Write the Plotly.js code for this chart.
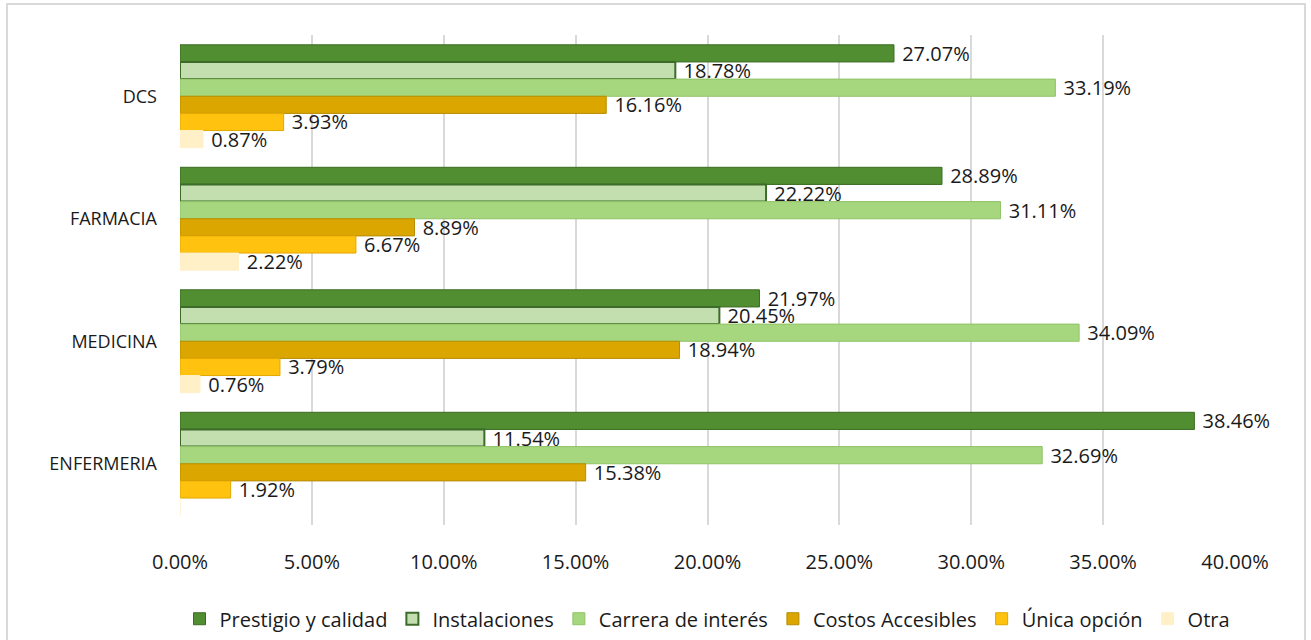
<!DOCTYPE html>
<html lang="es">
<head>
<meta charset="utf-8">
<title>Motivos de elección de la carrera</title>
<script src="https://cdn.plot.ly/plotly-3.0.1.min.js"></script>
<style>
    html, body { margin: 0; padding: 0; background: #ffffff; }
    #chart {
        position: absolute; left: 6px; top: 3px;
        width: 1300px; height: 640px;
        border: 2px solid #d9d9d9; box-sizing: border-box;
    }
</style>
</head>
<body>
<div id="chart"></div>
<script>
// Categorías (de arriba hacia abajo)
const carreras = ['DCS', 'FARMACIA', 'MEDICINA', 'ENFERMERIA'];

// Series en porcentaje
const prestigio      = [27.07, 28.89, 21.97, 38.46];
const instalaciones  = [18.78, 22.22, 20.45, 11.54];
const carreraInteres = [33.19, 31.11, 34.09, 32.69];
const costos         = [16.16, 8.89, 18.94, 15.38];
const unicaOpcion    = [3.93, 6.67, 3.79, 1.92];
const otra           = [0.87, 2.22, 0.76, 0];

const seriesNames = ['Prestigio y calidad', 'Instalaciones', 'Carrera de interés',
                     'Costos Accesibles', 'Única opción', 'Otra'];

const xTicks = [0, 5, 10, 15, 20, 25, 30, 35, 40];

const FONT = 'Open Sans, Noto Sans, sans-serif';

function makeTrace(name, values, fill, lineColor, lineWidth) {
    return {
        type: 'bar',
        orientation: 'h',
        name: name,
        x: values,
        y: carreras,
        marker: { color: fill, line: { color: lineColor, width: lineWidth } },
        // el cero de "Otra" en ENFERMERIA no lleva etiqueta
        text: values.map(v => v > 0 ? '\u00a0' + v.toFixed(2) + '%' : ''),
        textposition: 'outside',
        constraintext: 'none',
        cliponaxis: false,
        textfont: { family: FONT, size: 20, color: '#1a1a1a' },
        hoverinfo: 'name+x'
    };
}

const data = [
    makeTrace(seriesNames[0], prestigio, '#508e31', '#3b6b22', 1),
    makeTrace(seriesNames[1], instalaciones, '#c3dfb0', '#3d6b2a', 2),
    makeTrace(seriesNames[2], carreraInteres, '#a6d67e', '#8fc466', 1),
    makeTrace(seriesNames[3], costos, '#dba600', '#b88c00', 1),
    makeTrace(seriesNames[4], unicaOpcion, '#ffc20e', '#e0a800', 1),
    makeTrace(seriesNames[5], otra, '#fff0c8', '#fff0c8', 1)
];

const layout = {
    width: 1296,
    height: 636,
    margin: { l: 172, r: 69, t: 30, b: 116 },
    paper_bgcolor: 'rgba(0,0,0,0)',
    plot_bgcolor: 'rgba(0,0,0,0)',
    font: { family: FONT, color: '#1a1a1a' },
    barmode: 'group',
    bargap: 0.16,
    bargroupgap: 0,
    xaxis: {
        range: [0, 40],
        tickvals: xTicks,
        ticktext: xTicks.map(t => t.toFixed(2) + '%'),
        tickfont: { family: FONT, size: 20, color: '#1a1a1a' },
        showgrid: true,
        gridcolor: '#d9d9d9',
        gridwidth: 2,
        zeroline: false,
        showline: false,
        ticks: '',
        ticklabelstandoff: 23,
        fixedrange: true
    },
    yaxis: {
        type: 'category',
        categoryorder: 'array',
        categoryarray: carreras,
        autorange: 'reversed',
        tickfont: { family: FONT, size: 18, color: '#1a1a1a' },
        showgrid: false,
        zeroline: false,
        showline: false,
        ticks: '',
        ticklabelstandoff: 22,
        fixedrange: true
    },
    showlegend: true,
    legend: {
        orientation: 'h',
        x: 0.5,
        xanchor: 'center',
        yref: 'container',
        y: 0.035,
        yanchor: 'middle',
        itemwidth: 30,
        font: { family: FONT, size: 20, color: '#1a1a1a' },
        itemclick: false,
        itemdoubleclick: false
    }
};

Plotly.newPlot('chart', data, layout, { displayModeBar: false, staticPlot: true });
</script>
</body>
</html>
